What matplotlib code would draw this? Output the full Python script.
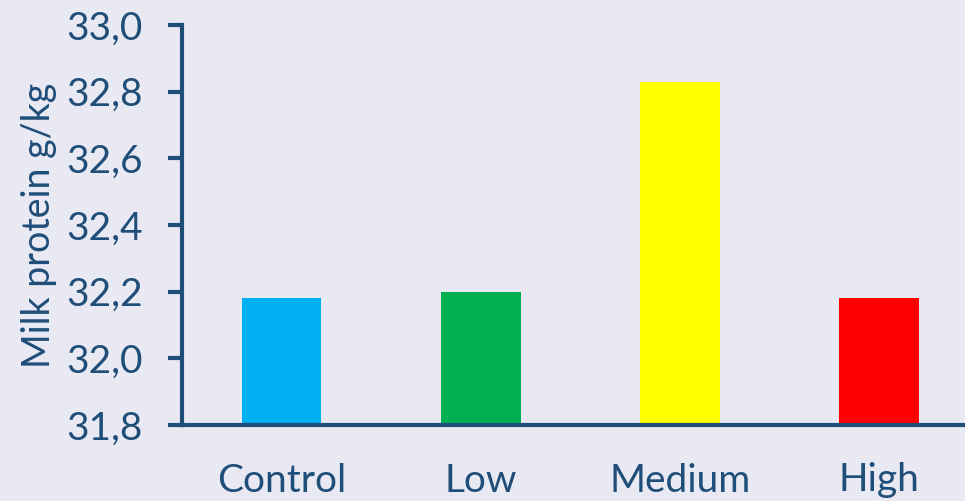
import matplotlib.pyplot as plt
from matplotlib.ticker import FuncFormatter

plt.rcParams['font.family'] = ['Lato', 'DejaVu Sans']

categories = ["Control", "Low", "Medium", "High"]
protein = [32.18, 32.20, 32.83, 32.18]
colors = ["#00b0f0", "#00b050", "#ffff00", "#ff0000"]
yticks = [31.8, 32.0, 32.2, 32.4, 32.6, 32.8, 33.0]

text_color = "#1f4e79"
bg = "#e9e9f3"

fig = plt.figure(figsize=(9.65, 5.01), dpi=100, facecolor=bg)
ax = fig.add_axes([182 / 965, 1 - 425 / 501, (978.5 - 182) / 965, 400 / 501])
ax.set_facecolor(bg)

ax.bar(range(len(categories)), protein, width=0.40, color=colors, bottom=0)
ax.set_xlim(-0.5, 3.5)
ax.set_ylim(31.8, 33.0)
ax.set_yticks(yticks)
ax.yaxis.set_major_formatter(FuncFormatter(lambda v, p: f"{v:.1f}".replace(".", ",")))
ax.set_xticks(range(len(categories)))
ax.set_xticklabels(categories)

for s in ["top", "right"]:
    ax.spines[s].set_visible(False)
for s in ["left", "bottom"]:
    ax.spines[s].set_color(text_color)
    ax.spines[s].set_linewidth(3)

ax.tick_params(axis="y", direction="out", length=10, width=3, color=text_color,
               labelcolor=text_color, labelsize=28, pad=18)
ax.tick_params(axis="x", length=0, labelcolor=text_color, labelsize=28, pad=27)
ax.set_ylabel("Milk protein g/kg", color=text_color, fontsize=27, labelpad=7)

fig.savefig("out.png", dpi=100, facecolor=bg)
